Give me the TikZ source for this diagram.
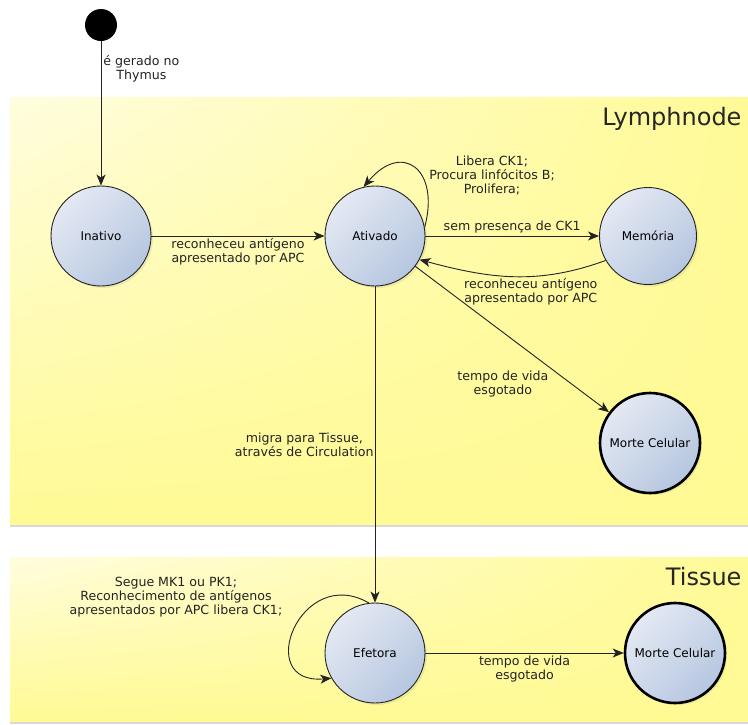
\documentclass[tikz,border=0pt]{standalone}
\usepackage{fontspec}
\setmainfont{DejaVu Sans}
\usetikzlibrary{shapes,arrows.meta,positioning,shadows,shadings}
\definecolor{zoneyellow}{RGB}{255,250,148}
\definecolor{zonelight}{RGB}{255,253,222}
\definecolor{statelight}{RGB}{228,233,243}
\definecolor{statedark}{RGB}{182,198,224}
\definecolor{inkgray}{RGB}{35,35,35}
\tikzstyle{state} = [circle, draw=inkgray, line width=0.9pt, minimum size=100pt,
    inner sep=0pt, top color=statelight, bottom color=statedark, shading angle=45,
    drop shadow={opacity=0.15, shadow xshift=2pt, shadow yshift=-2pt}]
\tikzstyle{final} = [state, draw=black, line width=2.6pt]
\tikzstyle{initial} = [circle, fill=black, minimum size=32pt, inner sep=0pt]
\tikzstyle{line} = [draw=inkgray, line width=0.9pt, -{Stealth[length=11pt,width=9pt,inset=3pt]}]
\tikzstyle{lbl} = [align=center, text=inkgray, inner sep=2pt, font=\fontsize{12.6}{14}\selectfont]
\tikzstyle{zone} = [upper left=zonelight, upper right=zoneyellow, lower left=zoneyellow,
    lower right=zoneyellow, drop shadow={opacity=0.3, shadow xshift=0pt, shadow yshift=-3pt}]
\tikzstyle{zonetitle} = [anchor=base east, text=black!85, font=\fontsize{24}{28}\selectfont]
\tikzstyle{every node}=[font=\fontsize{12}{14}\selectfont]

\begin{document}
\begin{tikzpicture}[x=1pt, y=1pt]
	\useasboundingbox (0,0) rectangle (748,-724);
	% Zones
	\shade[zone] (10,-97) rectangle (770,-524);
	\node [zonetitle] (lymph) at (745,-125) {Lymphnode};
	\shade[zone] (10,-557) rectangle (770,-721);
	\node [zonetitle] (tissue) at (745,-585) {Tissue};

	% Place nodes
	\node [initial] (start) at (101,-25) {};
	\node [state] (inativo) at (101,-236) {Inativo};
	\node [state] (ativado) at (375,-236) {Ativado};
	\node [state, minimum size=97pt] (memoria) at (648,-236) {Memória};
	\node [final] (morte1) at (650,-443) {Morte Celular};
	\node [state] (efetora) at (375,-653) {Efetora};
	\node [final] (morte2) at (675,-653) {Morte Celular};

	% loop labels
	\node [lbl] (ativadoloop) at (492,-175) {Libera CK1;\\Procura linfócitos B;\\Prolifera;};
	\node [lbl] (efetoraloop) at (176,-597) {Segue MK1 ou PK1;\\Reconhecimento de antígenos\\apresentados por APC libera CK1;};

	% Draw edges
	\path [line] (start) -- node [lbl, pos=0.19, right] {é gerado no\\Thymus} (inativo);
	\path [line] (inativo) -- node [lbl, midway, below] {reconheceu antígeno\\apresentado por APC} (ativado);
	\path [line] (ativado.10) to[out=75, in=50, looseness=2.1] (ativado.103);
	\path [line] (ativado) -- node [lbl, midway, above] {sem presença de CK1} (memoria);
	\path [line] (memoria.210) to[out=200, in=-15] node [lbl, pos=0.4, below] {reconheceu antígeno\\apresentado por APC} (ativado.-28);
	\path [line] (ativado) -- node [lbl, pos=0.7, anchor=north east] {tempo de vida\\esgotado} (morte1);
	\path [line] (ativado) -- node [lbl, midway, left, inner xsep=1pt] {migra para Tissue,\\através de Circulation} (efetora);
	\path [line] (efetora.97) to[out=150, in=185, looseness=2.4] (efetora.210);
	\path [line] (efetora) -- node [lbl, midway, below] {tempo de vida\\esgotado} (morte2);
\end{tikzpicture}
\end{document}
